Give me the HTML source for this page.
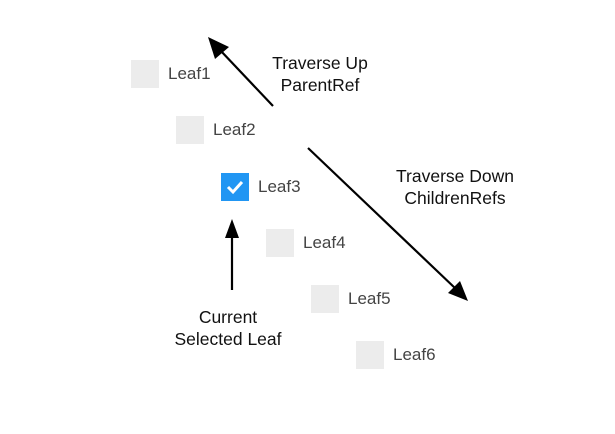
<!DOCTYPE html>
<html><head><style>
body{margin:0;width:615px;height:434px;background:#fff;position:relative;overflow:hidden;font-family:"Liberation Sans",sans-serif}
.b{position:absolute;width:28px;height:28px;background:#ececec}
.l{position:absolute;font-size:17px;color:#444;line-height:20px}
.t{position:absolute;font-size:17.5px;color:#111;text-align:center;line-height:22px;width:180px}
</style></head><body>
<div class="b" style="left:131px;top:60px"></div><div class="l" style="left:168px;top:64px">Leaf1</div>
<div class="b" style="left:176px;top:116px"></div><div class="l" style="left:213px;top:120px">Leaf2</div>
<div class="b" style="left:221px;top:173px;background:#2196f3"></div><div class="l" style="left:258px;top:177px">Leaf3</div>
<div class="b" style="left:266px;top:229px"></div><div class="l" style="left:303px;top:233px">Leaf4</div>
<div class="b" style="left:311px;top:285px"></div><div class="l" style="left:348px;top:289px">Leaf5</div>
<div class="b" style="left:356px;top:341px"></div><div class="l" style="left:393px;top:345px">Leaf6</div>
<svg width="615" height="434" style="position:absolute;left:0;top:0">
<polyline points="228,187 233,192 242,182" fill="none" stroke="#fff" stroke-width="3"/>
<g stroke="#000" stroke-width="2.2">
<line x1="273" y1="106" x2="220" y2="50"/>
<line x1="308" y1="148" x2="456" y2="289"/>
<line x1="232" y1="290" x2="232" y2="234"/>
</g>
<polygon points="208,37 229,47 215,59" fill="#000"/>
<polygon points="468,301 448,293 460,281" fill="#000"/>
<polygon points="232,219 225,238 239,238" fill="#000"/>
</svg>
<div class="t" style="left:230px;top:52px">Traverse Up<br>ParentRef</div>
<div class="t" style="left:365px;top:165px">Traverse Down<br>ChildrenRefs</div>
<div class="t" style="left:138px;top:306px">Current<br>Selected Leaf</div>
</body></html>
